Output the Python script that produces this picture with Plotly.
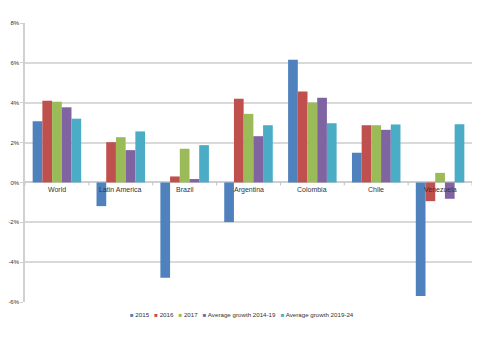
import plotly.graph_objects as go

# Real GDP growth (%) by region / country
categories = ["World", "Latin America", "Brazil", "Argentina", "Colombia", "Chile", "Venezuela"]
g2015 = [3.07, -1.19, -4.78, -1.99, 6.15, 1.49, -5.70]
g2016 = [4.10, 2.02, 0.30, 4.20, 4.56, 2.87, -0.94]
g2017 = [4.05, 2.27, 1.69, 3.44, 4.01, 2.87, 0.48]
avg_2014_19 = [3.77, 1.62, 0.17, 2.32, 4.25, 2.64, -0.82]
avg_2019_24 = [3.20, 2.56, 1.87, 2.87, 2.97, 2.91, 2.92]

series_names = ["2015", "2016", "2017", "Average growth 2014-19", "Average growth 2019-24"]
series_values = [g2015, g2016, g2017, avg_2014_19, avg_2019_24]
colors = ["#4F81BD", "#C0504D", "#9BBB59", "#8064A2", "#4BACC6"]
y_ticks = [-6, -4, -2, 0, 2, 4, 6, 8]

FONT = "Liberation Sans"
idx = list(range(len(categories)))

fig = go.Figure()
for name, vals, col in zip(series_names, series_values, colors):
    fig.add_trace(go.Bar(x=idx, y=vals, name=name, marker=dict(color=col, line=dict(width=0)),
                         showlegend=False))

# category labels sitting just under the zero line
for i, c in enumerate(categories):
    fig.add_annotation(x=i, y=0, text=c, showarrow=False, yanchor="top", yshift=-2,
                       font=dict(family=FONT, size=7, color="#333333"))

# small tick marks on the zero line between categories
for i in range(len(categories) + 1):
    fig.add_shape(type="line", xref="x", yref="y", x0=i - 0.5, x1=i - 0.5,
                  ysizemode="pixel", yanchor=0, y0=-3, y1=0,
                  line=dict(color="#bfbfbf", width=1))

# compact legend row
legend_text = "&nbsp;&nbsp;&nbsp;".join(
    f"<span style='color:{col};font-size:6px'>■</span> {name}"
    for name, col in zip(series_names, colors)
)
fig.add_annotation(x=0.485, y=-0.045, xref="paper", yref="paper", text=legend_text,
                   showarrow=False, xanchor="center", yanchor="middle",
                   font=dict(family=FONT, size=6.2, color="#333333"))

fig.update_layout(
    width=480, height=349,
    margin=dict(l=25, r=8, t=23, b=47),
    paper_bgcolor="white", plot_bgcolor="white",
    barmode="group", bargap=0.24, bargroupgap=0,
    font=dict(family=FONT, size=7, color="#333333"),
)
fig.update_xaxes(range=[-0.5, len(categories) - 0.5], showticklabels=False, showgrid=False,
                 zeroline=False, showline=False, ticks="")
fig.update_yaxes(range=[-6, 8], tickvals=y_ticks, ticktext=[f"{v}%" for v in y_ticks],
                 showgrid=True, gridcolor="#d9d9d9", gridwidth=1.5,
                 zeroline=True, zerolinecolor="#cfcfcf", zerolinewidth=1.5,
                 showline=True, linecolor="#d0d0d0", linewidth=1.5,
                 ticks="outside", ticklen=3, tickcolor="#d0d0d0",
                 tickfont=dict(family=FONT, size=6, color="#333333"))

fig.write_html("out.html")
